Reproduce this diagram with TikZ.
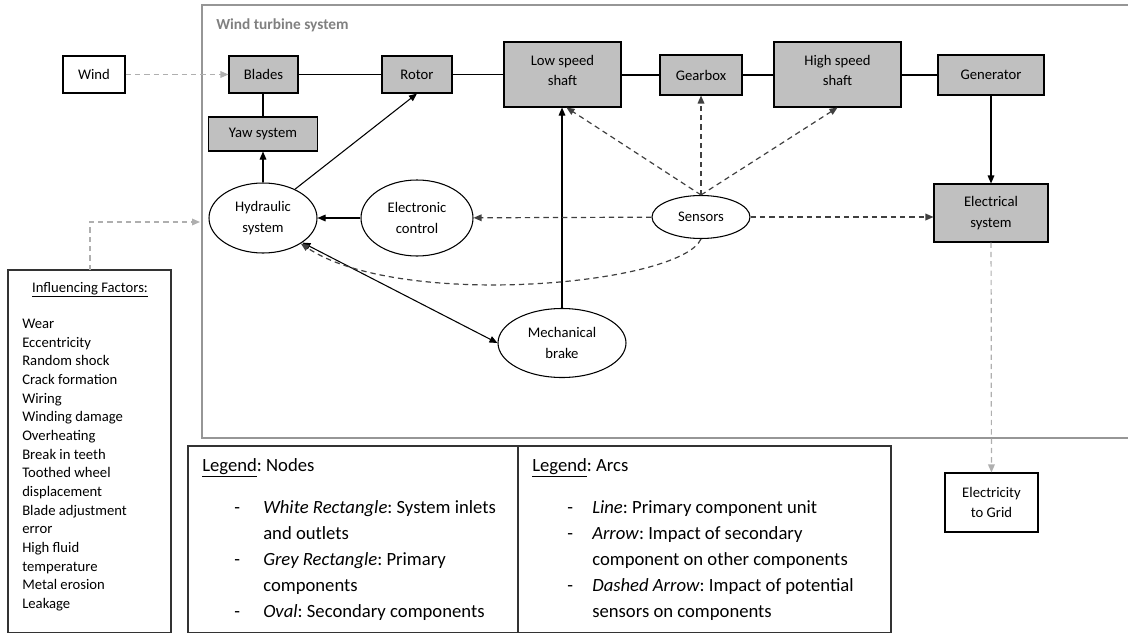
\documentclass[tikz,border=0pt]{standalone}
\usepackage{fontspec}
\setmainfont{Carlito}
\usetikzlibrary{arrows.meta,shapes.geometric}
\definecolor{boxgrey}{RGB}{192,192,192}
\definecolor{framegrey}{RGB}{150,150,150}
\definecolor{titlegrey}{RGB}{128,128,128}
\definecolor{conngrey}{RGB}{175,175,175}
\frenchspacing
\tikzset{
  px/.style={x=0.75pt,y=-0.75pt},
  txt/.style={font=\fontsize{11}{15.5}\selectfont, align=center, inner sep=0pt},
  prim/.style={txt, draw=black, line width=0.8pt, fill=boxgrey},
  io/.style={txt, draw=black, line width=0.8pt, fill=white},
  oval/.style={txt, draw=black, line width=0.8pt, fill=white, ellipse},
  tip/.style={-{Triangle[length=6pt,width=5pt]}},
  solidarrow/.style={draw=black, line width=0.8pt, tip},
  plain/.style={draw=black, line width=0.8pt},
  sensarrow/.style={draw=black!75, line width=0.9pt, dash pattern=on 4pt off 3pt, tip},
  greyarrow/.style={draw=conngrey, line width=0.9pt, dash pattern=on 4pt off 3pt, -{Triangle[length=6pt,width=5pt]}},
  factor/.style={anchor=base west, font=\fontsize{11}{14}\selectfont, inner sep=0pt},
  legtext/.style={anchor=base west, font=\fontsize{14}{19.5}\selectfont, inner sep=0pt, align=left},
}
\begin{document}
\begin{tikzpicture}[px]
\useasboundingbox (0,0) rectangle (1128,632);
\clip (0,0) rectangle (1128,632);
% frame
\draw[framegrey, line width=1.9pt] (202,5) rectangle (1145,438);
\node[anchor=base west, inner sep=0pt, text=titlegrey, font=\fontsize{11.5}{14}\selectfont\bfseries] (title) at (216,29) {Wind turbine system};
\coordinate (frameW) at (200,222);

% primary components
\node[io, minimum width=46.5pt, minimum height=27.75pt] (wind) at (94,74.5) {Wind};
\node[prim, minimum width=51.75pt, minimum height=27.75pt] (blades) at (263.5,74.5) {Blades};
\node[prim, minimum width=81.75pt, minimum height=25.5pt] (yaw) at (263,134) {Yaw system};
\node[prim, minimum width=52.5pt, minimum height=27.75pt] (rotor) at (417,74.5) {Rotor};
\node[prim, minimum width=87.75pt, minimum height=48.75pt, text depth=6pt] (lss) at (562.5,74.5) {Low speed\\shaft};
\node[prim, minimum width=61.5pt, minimum height=30pt] (gear) at (701,75) {Gearbox};
\node[prim, minimum width=95.25pt, minimum height=48.75pt, text depth=6pt] (hss) at (837.5,74.5) {High speed\\shaft};
\node[prim, minimum width=79.5pt, minimum height=30pt] (gen) at (991,75) {Generator};
\node[prim, minimum width=85.5pt, minimum height=43.5pt] (elsys) at (991,213) {Electrical\\system};
\node[io, minimum width=69.75pt, minimum height=44.25pt] (grid) at (991.5,502.5) {Electricity\\to Grid};

% secondary components
\node[oval, minimum width=81pt, minimum height=52.5pt] (hyd) at (263,218) {Hydraulic\\system};
\node[oval, minimum width=84pt, minimum height=57pt] (ectrl) at (417,218) {Electronic\\control};
\node[oval, minimum width=73.5pt, minimum height=32.25pt] (sens) at (701,217) {Sensors};
\node[oval, minimum width=96pt, minimum height=51.75pt] (brake) at (562,343) {Mechanical\\brake};

% primary lines
\draw[plain] (blades) -- (rotor);
\draw[plain] (rotor) -- (lss);
\draw[plain] (lss.east |- gear) -- (gear);
\draw[plain] (gear) -- (hss.west |- gear);
\draw[plain] (hss.east |- gen) -- (gen);
\draw[plain] (blades.south -| yaw) -- (yaw);

% solid arrows
\draw[solidarrow] (hyd) -- (yaw);
\draw[solidarrow] (hyd.42) -- (rotor.south);
\draw[solidarrow] (ectrl) -- (hyd);
\draw[solidarrow] (brake.north) -- (lss.south -| brake.north);
\draw[solidarrow] (gen) -- (elsys);
\draw[draw=black, line width=0.8pt, {Triangle[length=6pt,width=5pt]}-{Triangle[length=6pt,width=5pt]}] (hyd.-32) -- (brake.west);

% sensor arrows
\draw[sensarrow] (sens) -- (ectrl);
\draw[sensarrow] (sens.east) -- (elsys.west |- sens.east);
\draw[sensarrow] (sens.north) -- ([xshift=3pt]lss.south);
\draw[sensarrow] (sens.north) -- (gear.south);
\draw[sensarrow] (sens.north) -- (hss.south);
\draw[sensarrow] (sens.south) .. controls (680,285) and (400,310) .. (hyd.-34);

% grey dashed
\draw[greyarrow] (wind) -- (blades);
\draw[greyarrow] (elsys) -- (grid);

% influencing factors
\draw[line width=0.9pt, draw=black!80] (8,270) rectangle (171,633);
\node[anchor=base, inner sep=0pt, font=\fontsize{11}{14}\selectfont] (inftitle) at (90,292) {\underline{Influencing Factors:}};
\coordinate (infN) at (90,270);
\draw[greyarrow] (infN) |- (frameW);
\foreach \t [count=\i] in {Wear,Eccentricity,Random shock,Crack formation,Wiring,Winding damage,Overheating,Break in teeth,Toothed wheel,displacement,Blade adjustment,error,High fluid,temperature,Metal erosion,Leakage}
  \node[factor] (f\i) at (22,{328.5+(\i-1)*18.67}) {\t};

% legends
\draw[line width=0.9pt, draw=black!80] (188,446) rectangle (518,633);
\draw[line width=0.9pt, draw=black!80] (518,446) rectangle (891,633);
\node[legtext] (ln) at (202,471) {\underline{Legend}: Nodes};
\node[legtext] (la) at (532,471) {\underline{Legend}: Arcs};
% (multi-line nodes: base anchor is the last line's baseline)
\node[legtext] (nd1) at (234,513) {-};
\node[legtext] (nt1) at (263,539) {\textit{White Rectangle}: System inlets\\and outlets};
\node[legtext] (nd2) at (234,565) {-};
\node[legtext] (nt2) at (263,591) {\textit{Grey Rectangle}: Primary\\components};
\node[legtext] (nd3) at (234,617) {-};
\node[legtext] (nt3) at (263,617) {\textit{Oval}: Secondary components};
\node[legtext] (ad1) at (567,513) {-};
\node[legtext] (at1) at (592,513) {\textit{Line}: Primary component unit};
\node[legtext] (ad2) at (567,539) {-};
\node[legtext] (at2) at (592,565) {\textit{Arrow}: Impact of secondary\\component on other components};
\node[legtext] (ad3) at (567,591) {-};
\node[legtext] (at3) at (592,617) {\textit{Dashed Arrow}: Impact of potential\\sensors on components};
\end{tikzpicture}
\end{document}
